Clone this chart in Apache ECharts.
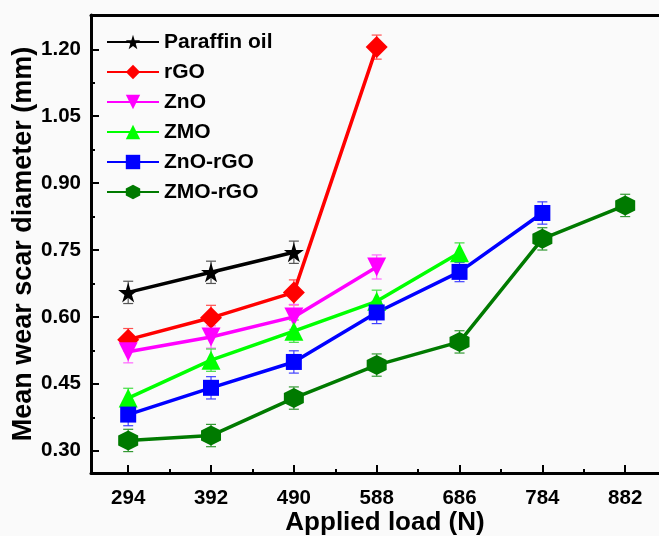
<!DOCTYPE html>
<html><head><meta charset="utf-8">
<script src="https://cdn.jsdelivr.net/npm/echarts@6/dist/echarts.min.js"></script>
<style>html,body{margin:0;padding:0;background:#fafafa}#c{width:659px;height:536px}</style>
</head><body><div id="c"></div>
<script>
// ---- data ----
const loads = [294, 392, 490, 588, 686, 784, 882];
const minorX = [343, 441, 539, 637, 735, 833];
const yTicks = [0.30, 0.45, 0.60, 0.75, 0.90, 1.05, 1.20];
const yMinor = [0.375, 0.525, 0.675, 0.825, 0.975, 1.125];
const seriesNames = ['Paraffin oil', 'rGO', 'ZnO', 'ZMO', 'ZnO-rGO', 'ZMO-rGO'];
const paraffin = [0.655, 0.700, 0.745];
const paraffinErr = [0.025, 0.025, 0.025];
const rGO = [0.549, 0.598, 0.655, 1.205];
const rGOErr = [0.025, 0.028, 0.028, 0.027];
const ZnO = [0.522, 0.555, 0.600, 0.712];
const ZnOErr = [0.025, 0.025, 0.028, 0.027];
const ZMO = [0.418, 0.503, 0.568, 0.635, 0.744];
const ZMOErr = [0.022, 0.025, 0.025, 0.025, 0.022];
const ZnOrGO = [0.381, 0.441, 0.499, 0.610, 0.701, 0.833];
const ZnOrGOErr = [0.025, 0.025, 0.025, 0.025, 0.022, 0.025];
const ZMOrGO = [0.323, 0.334, 0.418, 0.492, 0.544, 0.775, 0.850];
const ZMOrGOErr = [0.025, 0.025, 0.025, 0.025, 0.025, 0.025, 0.025];

const values = [paraffin, rGO, ZnO, ZMO, ZnOrGO, ZMOrGO];
const errors = [paraffinErr, rGOErr, ZnOErr, ZMOErr, ZnOrGOErr, ZMOrGOErr];
const colors = ['#000000', '#ff0000', '#ff00ff', '#00ff00', '#0000ff', '#007a00'];
const errColors = ['#555555', '#ff5050', '#ff66ff', '#44dd44', '#4040ff', '#339933'];
const symbols = [
  'path://M50,0 L61,35 L98,35 L68,57 L79,91 L50,70 L21,91 L32,57 L2,35 L39,35 Z',
  'diamond', 'triangle', 'triangle', 'rect',
  'path://M50,0 L93,25 L93,75 L50,100 L7,75 L7,25 Z'
];
const symbolRot = [0, 0, 180, 0, 0, 0];
const symbolSizes = [20, 22, 19, 19, 16, 20];

const FONT = '"Liberation Sans", Arial, sans-serif';
const chart = echarts.init(document.getElementById('c'));

const series = [];
values.forEach((vals, i) => {
  const data = vals.map((v, k) => [loads[k], v]);
  const errData = vals.map((v, k) => [loads[k], v - errors[i][k], v + errors[i][k]]);
  series.push({
    type: 'custom', name: seriesNames[i] + '_err', z: 2, silent: true,
    renderItem: function (params, api) {
      const x = api.value(0);
      const lo = api.coord([x, api.value(1)]);
      const hi = api.coord([x, api.value(2)]);
      const w = 5;
      const st = { stroke: errColors[i], lineWidth: 1.2 };
      return { type: 'group', children: [
        { type: 'line', shape: { x1: lo[0], y1: lo[1], x2: hi[0], y2: hi[1] }, style: st },
        { type: 'line', shape: { x1: lo[0] - w, y1: lo[1], x2: lo[0] + w, y2: lo[1] }, style: st },
        { type: 'line', shape: { x1: hi[0] - w, y1: hi[1], x2: hi[0] + w, y2: hi[1] }, style: st }
      ]};
    },
    encode: { x: 0, y: [1, 2] },
    data: errData
  });
  series.push({
    type: 'line', name: seriesNames[i], z: 3,
    data: data,
    symbol: symbols[i], symbolRotate: symbolRot[i], symbolSize: symbolSizes[i],
    showAllSymbol: true,
    lineStyle: { color: colors[i], width: 3.5 },
    itemStyle: { color: colors[i] },
    emphasis: { disabled: true }
  });
});

const xCommon = { type: 'value', min: 250, max: 922 };
chart.setOption({
  backgroundColor: '#fafafa',
  animation: false,
  grid: { left: 91, right: 0, top: 15, bottom: 63, containLabel: false, outerBoundsMode: 'none' },
  legend: {
    data: seriesNames,
    orient: 'vertical', left: 101, top: 26,
    itemWidth: 52, itemHeight: 18, itemGap: 8,
    textStyle: { fontFamily: FONT, fontWeight: 'bold', fontSize: 21, color: '#000', lineHeight: 22 }
  },
  xAxis: [
    Object.assign({}, xCommon, {
      position: 'bottom',
      name: 'Applied load (N)', nameLocation: 'middle', nameGap: 37, nameMoveOverlap: false,
      nameTextStyle: { fontFamily: FONT, fontWeight: 'bold', fontSize: 26, color: '#000', padding: [0, 0, 0, 20] },
      axisLine: { show: true, onZero: false, lineStyle: { color: '#000', width: 3 } },
      axisTick: { show: true, inside: true, length: 8, lineStyle: { color: '#000', width: 2 }, customValues: loads },
      axisLabel: { fontFamily: FONT, fontWeight: 'bold', fontSize: 20.5, color: '#000', margin: 15, customValues: loads },
      splitLine: { show: false }
    }),
    Object.assign({}, xCommon, {
      position: 'bottom',
      axisLine: { show: false },
      axisTick: { show: true, inside: true, length: 4, lineStyle: { color: '#000', width: 2 }, customValues: minorX },
      axisLabel: { show: false }, splitLine: { show: false }
    }),
    Object.assign({}, xCommon, {
      position: 'top',
      axisLine: { show: true, onZero: false, lineStyle: { color: '#000', width: 3 } },
      axisTick: { show: false }, axisLabel: { show: false }, splitLine: { show: false }
    })
  ],
  yAxis: [
    {
      type: 'value', min: 0.25, max: 1.277, position: 'left',
      name: 'Mean wear scar diameter (mm)', nameLocation: 'middle', nameGap: 54, nameMoveOverlap: false,
      nameTextStyle: { fontFamily: FONT, fontWeight: 'bold', fontSize: 27, color: '#000' },
      axisLine: { show: true, onZero: false, lineStyle: { color: '#000', width: 3 } },
      axisTick: { show: true, inside: true, length: 8, lineStyle: { color: '#000', width: 2 }, customValues: yTicks },
      axisLabel: { fontFamily: FONT, fontWeight: 'bold', fontSize: 20.5, color: '#000', margin: 10,
        customValues: yTicks, formatter: v => v.toFixed(2) },
      splitLine: { show: false }
    },
    {
      type: 'value', min: 0.25, max: 1.277, position: 'left',
      axisLine: { show: false },
      axisTick: { show: true, inside: true, length: 4, lineStyle: { color: '#000', width: 2 }, customValues: yMinor },
      axisLabel: { show: false }, splitLine: { show: false }
    }
  ],
  series: series
});
</script></body></html>
